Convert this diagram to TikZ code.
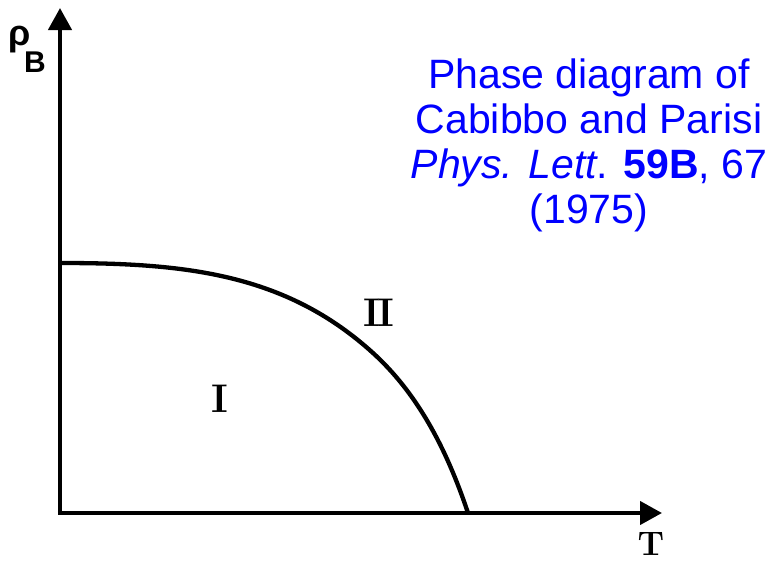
\documentclass[tikz,border=0pt]{standalone}
\usepackage{fontspec}
\newfontfamily\arialfont{Liberation Sans}
\usetikzlibrary{arrows.meta}
\begin{document}
\begin{tikzpicture}[x=1pt,y=-1pt,
  axis/.style={line width=4.3pt,-{Triangle[length=22pt,width=23pt]}},
  boundary/.style={line width=4.3pt,line join=round},
  roman/.style={font=\fontsize{40}{40}\selectfont\bfseries,inner sep=0pt},
  caption/.style={align=center,text=blue,inner sep=0pt,font=\fontsize{41}{45}\selectfont\arialfont}]
\useasboundingbox (0,0) rectangle (772,562);
\coordinate (O) at (60,513);
\coordinate (ytip) at (60,8);
\coordinate (xtip) at (662,513);
\coordinate (cstart) at (60,263);
\coordinate (cmid) at (373,353);
\coordinate (cend) at (468,513);
\draw[axis] ([yshift=2.15pt]O) -- (ytip);
\draw[axis] ([xshift=-2.15pt]O) -- (xtip);
\draw[boundary] (cstart) .. controls (184,263) and (285,273) .. (cmid)
  .. controls (415.7,391.9) and (445.3,445) .. (cend);
\node[inner sep=0pt,font=\fontsize{36}{36}\selectfont\arialfont\bfseries] (rho) at (20,40) {ρ};
\node[inner sep=0pt,font=\fontsize{30}{30}\selectfont\arialfont\bfseries] (B) at (35,62) {B};
\node[inner sep=0pt,font=\fontsize{34}{34}\selectfont\bfseries] (T) at (651,544) {T};
\node[roman] (I) at (220,399) {I};
\node[roman] (II) at (379,313) {I\kern-3ptI};
\node[caption,anchor=north] (cap) at (589,59) {Phase diagram of\\Cabibbo and Parisi\\\textit{Phys. Lett}. \textbf{59B}, 67\\(1975)};
\end{tikzpicture}
\end{document}
